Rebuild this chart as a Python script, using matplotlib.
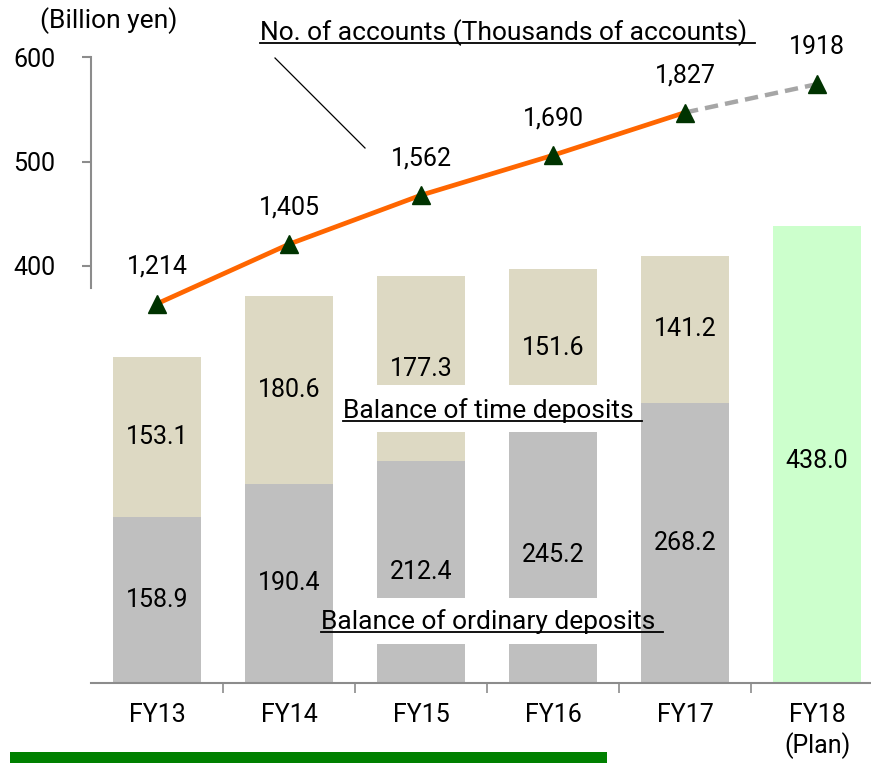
import matplotlib
matplotlib.use("Agg")
import matplotlib.pyplot as plt
from matplotlib.patches import Rectangle
from matplotlib.lines import Line2D

plt.rcParams["font.family"] = ["Roboto", "DejaVu Sans"]

# ---------------------------------------------------------------------------
# Data
# ---------------------------------------------------------------------------
categories = ["FY13", "FY14", "FY15", "FY16", "FY17", "FY18\n(Plan)"]
ordinary_dep = [158.9, 190.4, 212.4, 245.2, 268.2]       # billion yen
time_dep = [153.1, 180.6, 177.3, 151.6, 141.2]           # billion yen
plan_total = [438.0]                                     # FY18 plan
accounts = [1214, 1405, 1562, 1690, 1827, 1918]          # thousands
account_labels = ["1,214", "1,405", "1,562", "1,690", "1,827", "1918"]

# ---------------------------------------------------------------------------
# Styling
# ---------------------------------------------------------------------------
W, H = 871, 763
FS = 18
FS_CAP = 19
GREY_AX = "#8C8C8C"
C_ORD = "#BFBFBF"
C_TIME = "#DDD9C3"
C_PLAN = "#CCFFCC"
C_LINE = "#FF6600"
C_DASH = "#A6A6A6"
C_MARK = "#003300"
BAR_W = 0.67
YTOP = 655
ACC_SCALE = 3.34      # accounts axis units per billion-yen unit

fig = plt.figure(figsize=(W / 100, H / 100), dpi=100)
ax = fig.add_axes([90.7 / W, 80.5 / H, 1 - 90.7 / W, 682.5 / H])

x_act = list(range(len(ordinary_dep)))
x_all = list(range(len(categories)))

b1 = ax.bar(x_act, ordinary_dep, BAR_W, color=C_ORD, zorder=2)
b2 = ax.bar(x_act, time_dep, BAR_W, bottom=ordinary_dep, color=C_TIME, zorder=2)
b3 = ax.bar([len(ordinary_dep)], plan_total, BAR_W, color=C_PLAN, zorder=2)
for bars in (b1, b2):
    ax.bar_label(bars, fmt="%.1f", label_type="center", fontsize=FS, zorder=5)
for ann in ax.bar_label(b3, fmt="%.1f", label_type="center", fontsize=FS,
                        zorder=5):
    ann.xyann = (0, -5)

# white gaps behind the series captions
for y0, y1 in ((240.4, 285.5), (37.0, 81.1)):
    ax.add_patch(Rectangle((1.45, y0), 2.1, y1 - y0, facecolor="white",
                           edgecolor="none", zorder=3))

ax.set_xlim(-0.502, 5.409)
ax.set_ylim(0, YTOP)

for s in ("top", "right"):
    ax.spines[s].set_visible(False)
for s in ("left", "bottom"):
    ax.spines[s].set_color(GREY_AX)
    ax.spines[s].set_linewidth(1.5)
ax.spines["left"].set_bounds(379, 600)

ax.set_yticks([400, 500, 600])
ax.tick_params(axis="y", direction="out", length=6.5, width=1.5,
               color=GREY_AX, labelsize=FS, pad=19)
ax.set_xticks(x_all)
ax.set_xticklabels(categories, fontsize=FS, linespacing=1.25)
ax.set_xticks([i + 0.5 for i in x_all[:-1]], minor=True)
ax.tick_params(axis="x", which="major", length=0, pad=15)
ax.tick_params(axis="x", which="minor", direction="out", length=7,
               width=1.2, color=GREY_AX)

# accounts line on a hidden secondary scale
ax2 = ax.twinx()
ax2.set_ylim(0, YTOP * ACC_SCALE)
ax2.axis("off")
ax2.plot(x_all[:-1], accounts[:-1], color=C_LINE, lw=3.4, zorder=3,
         solid_capstyle="butt")
ax2.plot(x_all[-2:], accounts[-2:], color=C_DASH, lw=3.2, ls=(0, (3, 1.6)),
         zorder=2)
ax2.plot(x_all, accounts, ls="none", marker="^", ms=12.5, color=C_MARK,
         mec=C_MARK, zorder=4)
for xi, v, lab in zip(x_all, accounts, account_labels):
    ax2.annotate(lab, (xi, v), xytext=(0, 37), textcoords="offset pixels",
                 ha="center", va="center", fontsize=FS)

# captions
fig.text(40 / W, 1 - 28 / H, "(Billion yen)", fontsize=FS_CAP, va="baseline")
captions = [
    (260, 40, "No. of accounts (Thousands of accounts)"),
    (343, 418, "Balance of time deposits"),
    (321, 629, "Balance of ordinary deposits"),
]
texts = [fig.text(px / W, 1 - py / H, t, fontsize=FS_CAP, va="baseline",
                  zorder=6)
         for px, py, t in captions]

fig.canvas.draw()
for t, (px, py, _) in zip(texts, captions):
    bb = t.get_window_extent()
    yl = (H - py - 3) / H
    fig.add_artist(Line2D([bb.x0 / W, (bb.x1 + 8) / W], [yl, yl],
                          color="black", lw=1.3))

# leader line from caption to the accounts line
fig.add_artist(Line2D([275 / W, 365 / W], [1 - 58 / H, 1 - 148 / H],
                      color="black", lw=0.9))

# green rule at the bottom
fig.add_artist(Rectangle((10 / W, 0), 597 / W, 11 / H, facecolor="#008000",
                         edgecolor="none", transform=fig.transFigure))

fig.savefig("out.png", dpi=100)
